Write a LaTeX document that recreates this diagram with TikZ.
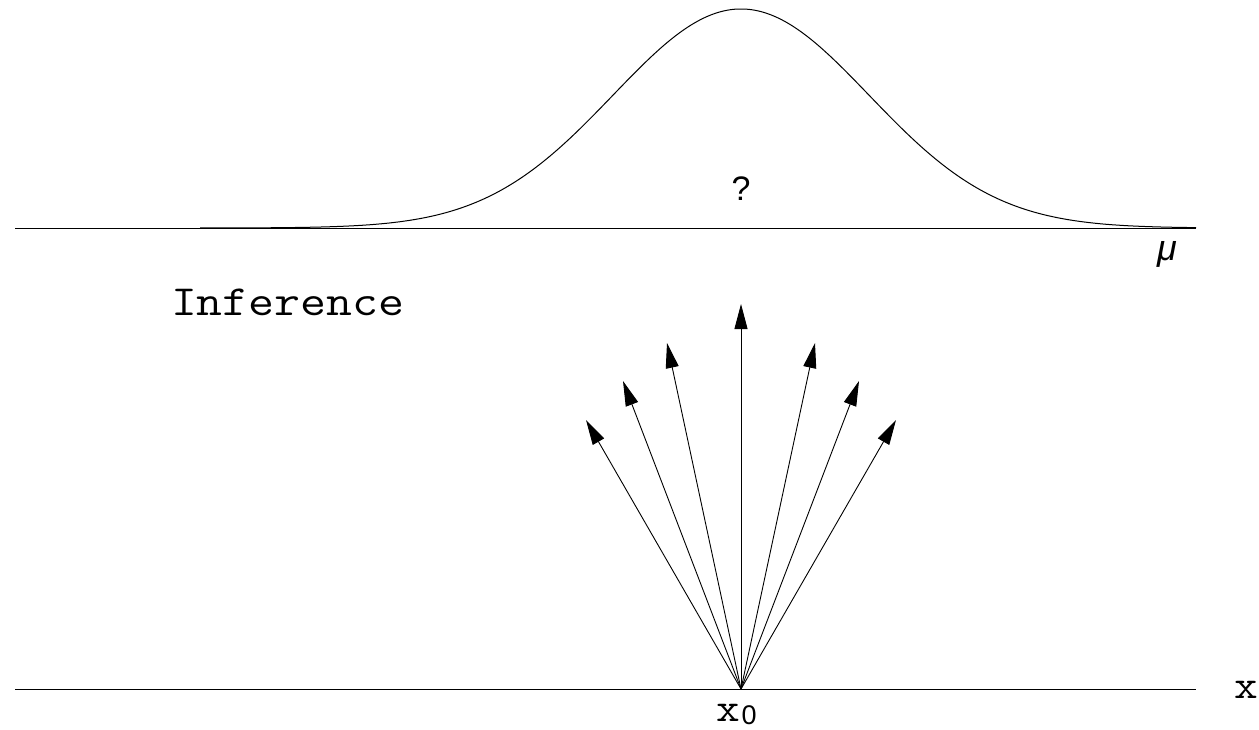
\documentclass[tikz,border=0pt]{standalone}
\usepackage{fontspec}
\newfontfamily\sansf{Liberation Sans}
\usetikzlibrary{arrows.meta}
\tikzset{
  axisline/.style={line width=1pt},
  curveline/.style={line width=1pt},
  vec/.style={line width=0.9pt,-{Triangle[length=25pt,width=13pt]}},
  lbl/.style={inner sep=0pt,outer sep=0pt},
}
\begin{document}
\begin{tikzpicture}[x=1pt,y=-1pt]
\useasboundingbox (0,0) rectangle (1259,729);
% axes
\coordinate (tl) at (15,228);
\coordinate (tr) at (1196,228);
\coordinate (bl) at (15,689);
\coordinate (br) at (1196,689);
\draw[axisline] (tl) -- (tr);
\draw[axisline] (bl) -- (br);
% gaussian
\draw[curveline] plot[domain=200:1196,samples=200,smooth] (\x,{228-219*exp(-((\x-741)/128)^2/2)});
% labels
\node[lbl,anchor=base] (q) at (741,200) {\sansf\fontsize{34}{34}\selectfont ?};
\node[lbl,anchor=base] (mu) at (1167,260) {\sansf\itshape\fontsize{36}{36}\selectfont μ};
\node[lbl,anchor=base west] (inf) at (171,315) {\scalebox{1.17}[1]{\ttfamily\fontsize{43}{43}\selectfont Inference}};
\node[lbl,anchor=base] (xl) at (1246,698) {\scalebox{1.15}[1]{\ttfamily\fontsize{40}{40}\selectfont x}};
\node[lbl,anchor=base west] (x0) at (716,721) {\scalebox{1.15}[1]{\ttfamily\fontsize{40}{40}\selectfont x}\hspace{2pt}\raisebox{-3pt}{\sansf\fontsize{27}{27}\selectfont 0}};
% arrows
\coordinate (o) at (741,689);
\coordinate (t1) at (586,420);
\coordinate (t2) at (623,381);
\coordinate (t3) at (667,343);
\coordinate (t4) at (741,304);
\coordinate (t5) at (815,343);
\coordinate (t6) at (859,381);
\coordinate (t7) at (896,420);
\foreach \t in {t1,t2,t3,t4,t5,t6,t7}{\draw[vec] (o) -- (\t);}
\end{tikzpicture}
\end{document}
